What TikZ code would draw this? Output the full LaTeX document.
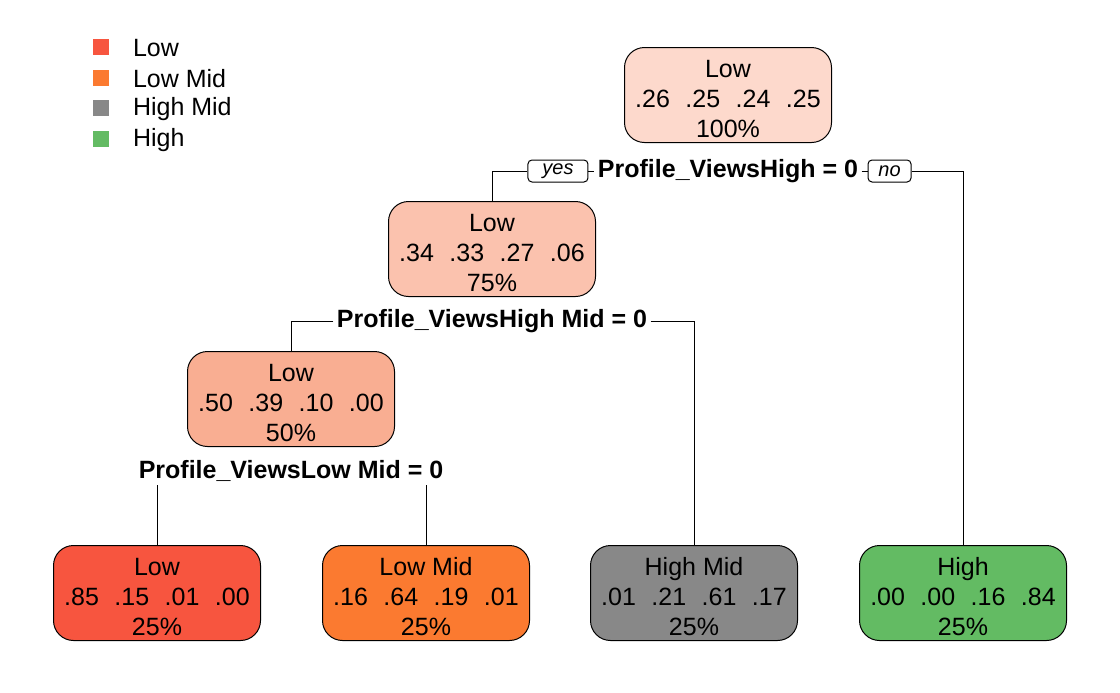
\documentclass[tikz,border=0pt]{standalone}
\usepackage{fontspec}
\setmainfont{Liberation Sans}
\usetikzlibrary{positioning}
\definecolor{cLow}{HTML}{F7553F}
\definecolor{cLowMid}{HTML}{FB7A30}
\definecolor{cHighMid}{HTML}{888888}
\definecolor{cHigh}{HTML}{63BB63}
\definecolor{cRoot}{HTML}{FDD9CC}
\definecolor{cLvlTwo}{HTML}{FBC2AE}
\definecolor{cLvlThree}{HTML}{F9AE92}
\newcommand{\gap}{\hspace{0.62em}}
\newcommand{\topstrut}{\rule{0pt}{12.5pt}}
\tikzstyle{leaf} = [rectangle,draw,rounded corners=10pt,minimum width=103.5pt,minimum height=47.5pt,align=center,inner sep=0pt,font=\fontsize{12.5}{15}\selectfont]
\tikzstyle{split} = [inner sep=1.5pt,font=\fontsize{12.5}{15}\selectfont\bfseries]
\tikzstyle{yesno} = [rectangle,draw,rounded corners=2pt,minimum height=11pt,inner sep=1pt,font=\fontsize{10}{12}\selectfont\itshape]
\tikzstyle{key} = [rectangle,fill,minimum size=8pt,inner sep=0pt]
\tikzstyle{keytext} = [anchor=west,inner sep=0pt,font=\fontsize{12.5}{15}\selectfont]

\begin{document}
\begin{tikzpicture}[x=0.5pt,y=-0.5pt,line width=0.5pt]
    	\useasboundingbox (0,0) rectangle (1120,692);
    	
    	% legend
    	\node[key,cLow] (kLow) at (101,47) {};
    	\node[keytext,right=11.5pt of kLow,yshift=-0.5pt] (tLow) {Low};
    	\node[key,cLowMid] (kLowMid) at (101,78) {};
    	\node[keytext,right=11.5pt of kLowMid,yshift=-0.5pt] (tLowMid) {Low Mid};
    	\node[key,cHighMid] (kHighMid) at (101,108) {};
    	\node[keytext,right=11.5pt of kHighMid,yshift=-0.5pt] (tHighMid) {High Mid};
    	\node[key,cHigh] (kHigh) at (101,139) {};
    	\node[keytext,right=11.5pt of kHigh,yshift=-0.5pt] (tHigh) {High};
    	
    	% tree
    	\node[leaf,fill=cRoot] (root) at (728,95) {\topstrut Low\\.26\gap.25\gap.24\gap.25\\100\%};
    	\node[split] (splitA) at (728,171) {Profile\_ViewsHigh = 0};
    	\node[yesno,minimum width=30pt,left=3pt of splitA] (yes) {yes};
    	\node[yesno,minimum width=21.5pt,right=3pt of splitA] (no) {no};
    	
    	\node[leaf,fill=cLvlTwo] (lvlTwo) at (492,249) {\topstrut Low\\.34\gap.33\gap.27\gap.06\\75\%};
    	\node[split] (splitB) at (492,321) {Profile\_ViewsHigh Mid = 0};
    	
    	\node[leaf,fill=cLvlThree] (lvlThree) at (291,399) {\topstrut Low\\.50\gap.39\gap.10\gap.00\\50\%};
    	\node[split] (splitC) at (291,471) {Profile\_ViewsLow Mid = 0};
    	
    	\node[leaf,fill=cLow] (low) at (157,593) {\topstrut Low\\.85\gap.15\gap.01\gap.00\\25\%};
    	\node[leaf,fill=cLowMid] (lowmid) at (426,593) {\topstrut Low Mid\\.16\gap.64\gap.19\gap.01\\25\%};
    	\node[leaf,fill=cHighMid] (highmid) at (694,593) {\topstrut High Mid\\.01\gap.21\gap.61\gap.17\\25\%};
    	\node[leaf,fill=cHigh] (high) at (963,593) {\topstrut High\\.00\gap.00\gap.16\gap.84\\25\%};
    	
    	\draw (yes) -- (splitA);
    	\draw (splitA) -- (no);
    	\draw (yes.west) -| (lvlTwo.north);
    	\draw (no.east) -| (high.north);
    	
    	\draw (splitB.west) -| (lvlThree.north);
    	\draw (splitB.east) -| (highmid.north);
    	
    	\draw (low.north) -- (low.north |- splitC.south);
    	\draw (lowmid.north) -- (lowmid.north |- splitC.south);
    	
\end{tikzpicture}
\end{document}
